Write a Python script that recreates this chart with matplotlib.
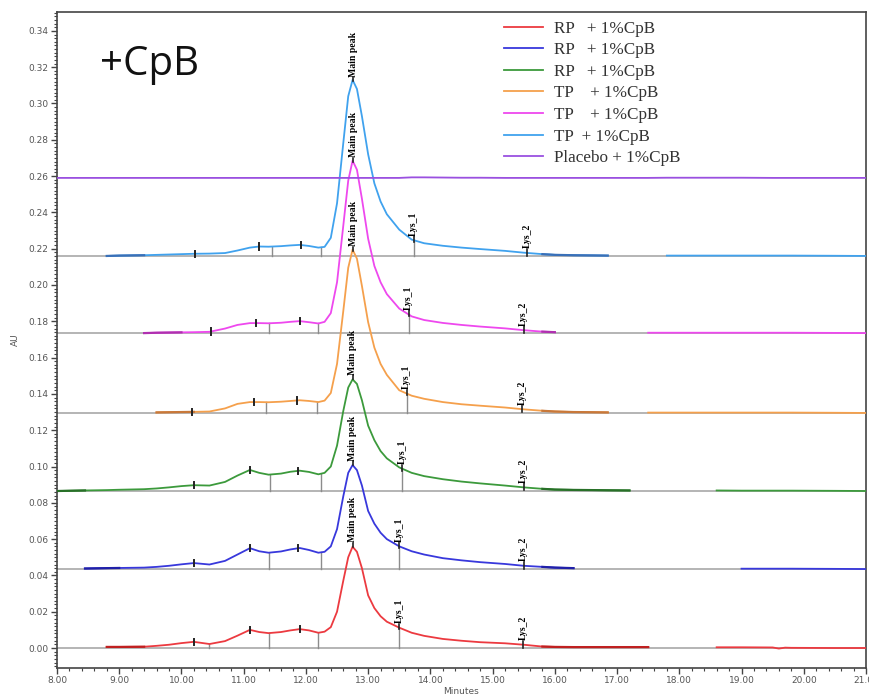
import matplotlib
matplotlib.use("Agg")
import matplotlib.pyplot as plt
from matplotlib.ticker import MultipleLocator, FormatStrFormatter
import numpy as np

# retention time grid (minutes)
times = [8.0, 8.45, 8.8, 9.0, 9.4, 9.6, 9.8, 10.0, 10.2, 10.45, 10.7, 10.9, 11.1, 11.25,
         11.4, 11.6, 11.75, 11.9, 12.05, 12.2, 12.3, 12.4, 12.5, 12.6, 12.68, 12.75, 12.82,
         12.9, 13.0, 13.1, 13.2, 13.3, 13.5, 13.7, 13.9, 14.2, 14.5, 14.8, 15.2, 15.5, 15.8,
         16.0, 16.3, 16.6, 16.85, 17.2, 17.5, 17.8, 18.2, 18.6, 19.0, 19.5, 19.6, 19.7, 19.8,
         20.5, 21.0]

# signal above each trace's own baseline (AU)
rp1 = [0.0005, 0.0005, 0.0006, 0.0006, 0.0007, 0.0012, 0.0018, 0.0027, 0.0034, 0.0022, 0.0038,
       0.0068, 0.0100, 0.0088, 0.0082, 0.0088, 0.0097, 0.0104, 0.0097, 0.0084, 0.0090, 0.0115,
       0.0200, 0.0370, 0.0500, 0.0558, 0.0530, 0.0440, 0.0290, 0.0220, 0.0175, 0.0145, 0.0112,
       0.0084, 0.0067, 0.0050, 0.0040, 0.0032, 0.0026, 0.0018, 0.0008, 0.0006, 0.0005, 0.0005,
       0.0005, 0.0005, 0.0005, 0.0004, 0.0004, 0.0004, 0.0004, 0.0003, -0.0003, 0.0002, 0.0001,
       0.0, 0.0]
rp2 = [0.0, 0.0003, 0.0005, 0.0006, 0.0008, 0.0012, 0.0018, 0.0026, 0.0033, 0.0025, 0.0045,
       0.0080, 0.0115, 0.0098, 0.0090, 0.0097, 0.0108, 0.0116, 0.0105, 0.0090, 0.0095, 0.0125,
       0.0220, 0.0400, 0.0530, 0.0573, 0.0545, 0.0460, 0.0320, 0.0250, 0.0200, 0.0165, 0.0125,
       0.0098, 0.0080, 0.0060, 0.0048, 0.0038, 0.0028, 0.0018, 0.0012, 0.0008, 0.0005, 0.0004,
       0.0003, 0.0003, 0.0003, 0.0003, 0.0003, 0.0003, 0.0002, 0.0002, 0.0002, 0.0002, 0.0002,
       0.0001, 0.0]
rp3 = [0.0, 0.0003, 0.0005, 0.0007, 0.0010, 0.0014, 0.0020, 0.0027, 0.0032, 0.0030, 0.0050,
       0.0085, 0.0116, 0.0100, 0.0090, 0.0096, 0.0106, 0.0112, 0.0105, 0.0092, 0.0100, 0.0135,
       0.0250, 0.0440, 0.0570, 0.0615, 0.0590, 0.0500, 0.0360, 0.0280, 0.0220, 0.0180, 0.0130,
       0.0100, 0.0082, 0.0065, 0.0052, 0.0042, 0.0030, 0.0020, 0.0012, 0.0008, 0.0006, 0.0005,
       0.0004, 0.0003, 0.0003, 0.0003, 0.0003, 0.0003, 0.0002, 0.0002, 0.0002, 0.0002, 0.0002,
       0.0001, 0.0]
tp1 = [0.0, 0.0, 0.0, 0.0, 0.0, 0.0003, 0.0004, 0.0005, 0.0006, 0.0008, 0.0025, 0.0050, 0.0060,
       0.0060, 0.0059, 0.0062, 0.0066, 0.0070, 0.0066, 0.0060, 0.0068, 0.0110, 0.0270, 0.0560,
       0.0800, 0.0900, 0.0850, 0.0700, 0.0500, 0.0360, 0.0270, 0.0210, 0.0125, 0.0095, 0.0078,
       0.0060, 0.0048, 0.0040, 0.0030, 0.0020, 0.0012, 0.0008, 0.0005, 0.0004, 0.0003, 0.0002,
       0.0002, 0.0002, 0.0002, 0.0002, 0.0002, 0.0002, 0.0002, 0.0002, 0.0002, 0.0001, 0.0]
tp2 = [0.0, 0.0, 0.0, 0.0, 0.0, 0.0002, 0.0003, 0.0004, 0.0005, 0.0007, 0.0025, 0.0045, 0.0055,
       0.0055, 0.0054, 0.0057, 0.0062, 0.0066, 0.0060, 0.0053, 0.0062, 0.0110, 0.0280, 0.0590,
       0.0840, 0.0950, 0.0900, 0.0740, 0.0520, 0.0370, 0.0280, 0.0215, 0.0135, 0.0092, 0.0072,
       0.0056, 0.0045, 0.0036, 0.0026, 0.0016, 0.0008, 0.0005, 0.0003, 0.0002, 0.0002, 0.0002,
       0.0002, 0.0002, 0.0002, 0.0002, 0.0002, 0.0002, 0.0002, 0.0002, 0.0002, 0.0001, 0.0]
tp3 = [0.0, 0.0, 0.0, 0.0002, 0.0004, 0.0006, 0.0008, 0.0010, 0.0012, 0.0013, 0.0016, 0.0030,
       0.0046, 0.0052, 0.0051, 0.0054, 0.0058, 0.0061, 0.0055, 0.0046, 0.0050, 0.0100, 0.0290,
       0.0620, 0.0880, 0.0970, 0.0920, 0.0770, 0.0560, 0.0400, 0.0300, 0.0230, 0.0145, 0.0090,
       0.0070, 0.0056, 0.0046, 0.0038, 0.0028, 0.0018, 0.0010, 0.0006, 0.0004, 0.0003, 0.0002,
       0.0002, 0.0002, 0.0002, 0.0002, 0.0002, 0.0002, 0.0002, 0.0002, 0.0002, 0.0002, 0.0001, 0.0]
placebo = [0.0, 0.0, 0.0, 0.0, 0.0, 0.0, 0.0, 0.0, 0.0, 0.0, 0.0, 0.0, 0.0, 0.0, 0.0, 0.0, 0.0,
           0.0, 0.0, 0.0, 0.0, 0.0, 0.0, 0.0, 0.0, 0.0, 0.0, 0.0, 0.0, 0.0, 0.0, 0.0, 0.0,
           0.0003, 0.0003, 0.0002, 0.0001, 0.0001, 0.0, 0.0, 0.0, 0.0, 0.0, 0.0, 0.0, 0.0, 0.0,
           0.0001, 0.0001, 0.0001, 0.0001, 0.0, 0.0, 0.0, 0.0, 0.0, 0.0]

labels = ["RP   + 1%CpB", "RP   + 1%CpB", "RP   + 1%CpB", "TP    + 1%CpB",
          "TP    + 1%CpB", "TP  + 1%CpB", "Placebo + 1%CpB"]
signals = [rp1, rp2, rp3, tp1, tp2, tp3, placebo]
baselines = [0.0, 0.0435, 0.0865, 0.1295, 0.1735, 0.216, 0.259]
colors = ["#ec3a40", "#3838dc", "#3c9a3c", "#f5a04c", "#ee48ee", "#40a2ee", "#9a50e0"]
dark_colors = ["#c02020", "#2020a8", "#287028", "#c8783a", "#b030b0", "#3a70b8", "#9a50e0"]
# time ranges where each trace is drawn
spans = [[(8.78, 17.5), (18.5, 21.0)], [(8.45, 16.3), (19.0, 21.0)], [(8.0, 17.2), (18.6, 21.0)],
         [(9.6, 16.85), (17.5, 21.0)], [(9.4, 16.0), (17.5, 21.0)], [(8.8, 16.85), (17.8, 21.0)],
         [(8.0, 21.0)]]

# integration marks (minutes) for the six sample traces
start_ticks = [[10.2, 11.1, 11.9], [10.2, 11.1, 11.88], [10.2, 11.1, 11.87],
               [10.17, 11.17, 11.85], [10.47, 11.19, 11.9], [10.22, 11.25, 11.92]]
drops = [[10.45, 11.4, 12.2], [11.4, 12.25], [11.42, 12.25], [11.36, 12.18], [11.41, 12.2], [11.45, 12.25]]
main_peak = [12.75, 12.75, 12.75, 12.76, 12.76, 12.76]
lys1 = [13.5, 13.5, 13.55, 13.62, 13.65, 13.73]
lys2 = [15.49, 15.5, 15.5, 15.47, 15.5, 15.55]

t = np.array(times)

fig = plt.figure(figsize=(8.7, 6.94), dpi=100)
ax = fig.add_axes([0.0655, 0.0375, 0.9299, 0.9452])

lab_font = dict(family="Liberation Serif", fontweight="bold", fontsize=7, rotation=90,
                ha="center", va="bottom")

for i in range(7):
    b = baselines[i]
    y = np.array(signals[i]) + b
    if i < 6:
        ax.axhline(b, color="#a8a8a8", lw=1.2, zorder=1)
    mask = np.zeros(len(t), dtype=bool)
    for s0, s1 in spans[i]:
        mask |= (t >= s0 - 1e-9) & (t <= s1 + 1e-9)
    yy = np.where(mask, y, np.nan)
    ax.plot(t, yy, color=colors[i], lw=1.3, zorder=3, label=labels[i])
    if i == 6:
        continue
    # darker fitted-baseline regions at start and tail
    first = spans[i][0]
    m_dark = ((t >= first[0]) & (t <= first[0] + 0.7)) | ((t >= 15.8) & (t <= first[1]))
    seg = np.where(m_dark, y, np.nan)
    ax.plot(t, seg, color=dark_colors[i], lw=1.6, zorder=3)

    def val(x):
        return np.interp(x, t, y)

    for x in drops[i]:
        ax.plot([x, x], [b, val(x)], color="#8c8c8c", lw=1.0, zorder=2)
    for x in start_ticks[i]:
        v = val(x)
        ax.plot([x, x], [v - 0.0017, v + 0.0017], color="#222222", lw=1.4, zorder=4)
    # main peak
    xp = main_peak[i]
    vp = val(xp)
    ax.plot([xp, xp], [vp, vp + 0.0022], color="#222222", lw=1.2, zorder=4)
    ax.text(xp, vp + 0.0025, "Main peak", clip_on=True, zorder=5, **lab_font)
    # Lys_1
    x1 = lys1[i]
    v1 = val(x1)
    ax.plot([x1, x1], [b, v1], color="#8c8c8c", lw=1.0, zorder=2)
    ax.plot([x1, x1], [v1 - 0.001, v1 + 0.0022], color="#222222", lw=1.2, zorder=4)
    ax.text(x1, v1 + 0.0025, "Lys_1", zorder=5, **lab_font)
    # Lys_2
    x2 = lys2[i]
    v2 = val(x2)
    ax.plot([x2, x2], [v2 - 0.0017, v2 + 0.0022], color="#222222", lw=1.2, zorder=4)
    ax.text(x2, v2 + 0.0025, "Lys_2", zorder=5, **lab_font)

ax.set_xlim(8.0, 21.0)
ax.set_ylim(-0.011, 0.3504)
ax.xaxis.set_major_locator(MultipleLocator(1.0))
ax.xaxis.set_minor_locator(MultipleLocator(0.2))
ax.yaxis.set_major_locator(MultipleLocator(0.02))
ax.yaxis.set_minor_locator(MultipleLocator(0.002))
ax.xaxis.set_major_formatter(FormatStrFormatter("%.2f"))
ax.yaxis.set_major_formatter(FormatStrFormatter("%.2f"))
ax.tick_params(which="major", length=4, width=1, color="#444444", labelsize=6.5,
               labelcolor="#555555", pad=2)
ax.tick_params(which="minor", length=2, width=0.8, color="#444444")
for sp in ax.spines.values():
    sp.set_color("#444444")
    sp.set_linewidth(1.2)

ax.set_xlabel("Minutes", fontsize=6.5, color="#555555", labelpad=1)
ax.set_ylabel("AU", fontsize=6.5, color="#555555", labelpad=6)

ax.text(0.053, 0.904, "+CpB", transform=ax.transAxes, fontsize=29, family="Open Sans",
        color="#111111", ha="left", va="baseline")

leg = ax.legend(loc="upper left", bbox_to_anchor=(0.542, 1.0), frameon=False,
                prop={"family": "Liberation Serif", "size": 12.3}, handlelength=2.3,
                labelspacing=0.33, handletextpad=0.6, borderaxespad=0.1)
for txt in leg.get_texts():
    txt.set_color("#333333")

fig.savefig("out.png", dpi=100)
